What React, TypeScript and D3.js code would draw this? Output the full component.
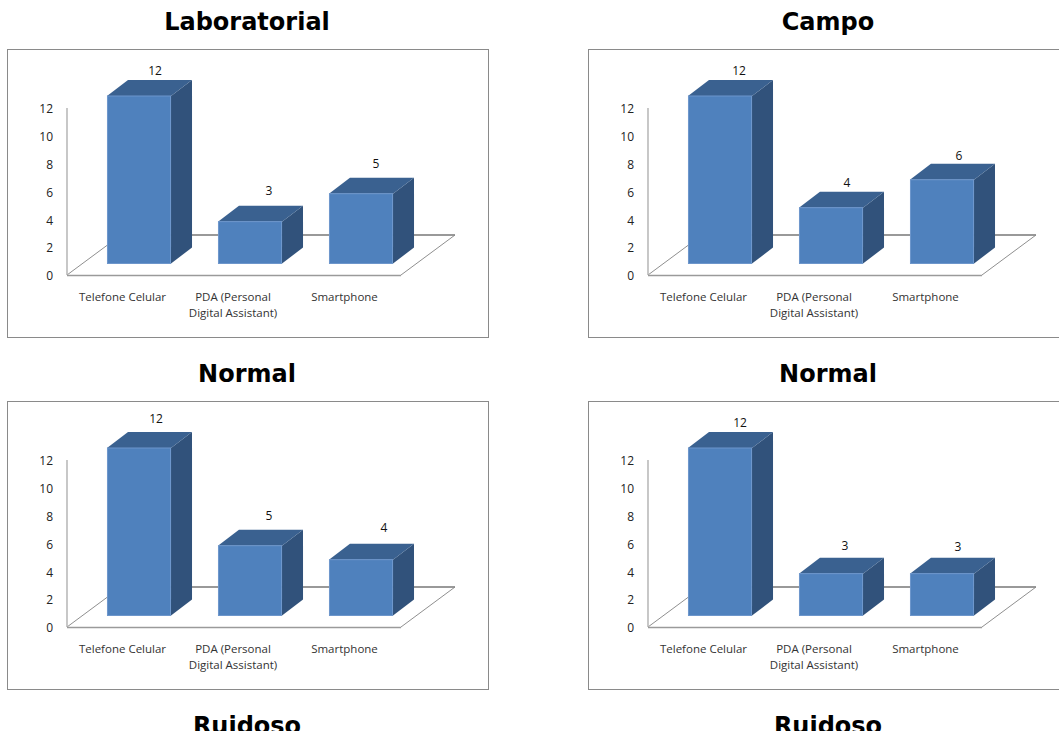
import React from "react";
import * as d3 from "d3";

const categories = ["Telefone Celular", "PDA (Personal Digital Assistant)", "Smartphone"];
const categoryLines = [["Telefone Celular"], ["PDA (Personal", "Digital Assistant)"], ["Smartphone"]];
const panelTitles = ["Laboratorial", "Campo", "Normal", "Normal", "Ruidoso", "Ruidoso"];
const valuesLabNormal = [12, 3, 5];
const valuesCampoNormal = [12, 4, 6];
const valuesLabRuidoso = [12, 5, 4];
const valuesCampoRuidoso = [12, 3, 3];
const yTicks = [0, 2, 4, 6, 8, 10, 12];

const panels = [
  { values: valuesLabNormal, dx: 0, dy: 0, nudgeX: [0, 3, -1], nudgeY: [0, -6, -5] },
  { values: valuesCampoNormal, dx: 581, dy: 0, nudgeX: [3, 0, 1], nudgeY: [0, 0, 1] },
  { values: valuesLabRuidoso, dx: 0, dy: 352, nudgeX: [1, 3, 7], nudgeY: [-4, -5, -7] },
  { values: valuesCampoRuidoso, dx: 581, dy: 352, nudgeX: [4, -2, 0], nudgeY: [0, -3, -2] },
];

const DEPTH_X = 21;
const DEPTH_Y = -16;
const LABEL_FONT = "'Open Sans', 'Liberation Sans', sans-serif";

const xScale = d3.scaleBand<string>().domain(categories).range([83.5, 416.5]).paddingInner(0.423).paddingOuter(0.2115);
const axisY = d3.scaleLinear().domain([0, 12]).range([275, 108]);
const barY = d3.scaleLinear().domain([0, 12]).range([263.5, 96]);
const poly = d3.line();

function Panel({ values, dx, dy, nudgeX, nudgeY }: any) {
  const bw = xScale.bandwidth();
  return (
    <g transform={`translate(${dx},${dy})`}>
      <rect x={7.5} y={49.5} width={481} height={288} fill="#fff" stroke="#8a8a8a" />
      <path d={poly([[67, 275], [121, 235], [455, 235], [401, 275]])!} fill="#fff" stroke="#8f8f8f" strokeWidth={1} />
      <line x1={67} x2={401} y1={275.5} y2={275.5} stroke="#9a9a9a" strokeWidth={1.6} />
      <line x1={121} x2={455} y1={235} y2={235} stroke="#8a8a8a" strokeWidth={1.4} />
      <line x1={67} x2={67} y1={108} y2={275} stroke="#b0b0b0" strokeWidth={1.4} />
      {yTicks.map((t) => (
        <text key={t} x={53} y={axisY(t) + 1} dy="0.36em" textAnchor="end" fontFamily={LABEL_FONT} fontSize={12} fill="#222">
          {t}
        </text>
      ))}
      {categories.map((c, i) => {
        const v = values[i];
        const x0 = xScale(c)!;
        const x1 = x0 + bw;
        const top = barY(v);
        const bot = barY(0);
        return (
          <g key={c}>
            <path d={poly([[x1, top], [x1 + DEPTH_X, top + DEPTH_Y], [x1 + DEPTH_X, bot + DEPTH_Y], [x1, bot]])!} fill="#31527b" />
            <path d={poly([[x0, top], [x0 + DEPTH_X, top + DEPTH_Y], [x1 + DEPTH_X, top + DEPTH_Y], [x1, top]])!} fill="#3a6190" />
            <rect x={x0 + 0.5} y={top} width={bw - 1} height={bot - top} fill="#4f81bd" stroke="#6d96cb" strokeWidth={1} />
            <text x={x0 + bw / 2 + 16 + nudgeX[i]} y={top + DEPTH_Y - 9 + nudgeY[i]} dy="0.36em" textAnchor="middle" fontFamily={LABEL_FONT} fontSize={12} fill="#111">
              {v}
            </text>
          </g>
        );
      })}
      {categories.map((c, i) => (
        <text key={c} textAnchor="middle" fontFamily={LABEL_FONT} fontSize={11.5} fill="#333">
          {categoryLines[i].map((l, j) => (
            <tspan key={l} x={[122.5, 233, 344.5][i]} y={301 + j * 16}>
              {l}
            </tspan>
          ))}
        </text>
      ))}
    </g>
  );
}

export default function App() {
  const cols = [247, 828];
  const rows = [30, 382, 734];
  return (
    <svg width={1059} height={731} style={{ position: "absolute", left: 0, top: 0, display: "block", background: "#fff" }}>
      {panels.map((p, i) => (
        <Panel key={i} {...p} />
      ))}
      {panelTitles.map((t, i) => (
        <text key={i} x={cols[i % 2]} y={rows[Math.floor(i / 2)]} textAnchor="middle" fontFamily="'DejaVu Sans', sans-serif" fontWeight="bold" fontSize={24} fill="#000">
          {t}
        </text>
      ))}
    </svg>
  );
}
